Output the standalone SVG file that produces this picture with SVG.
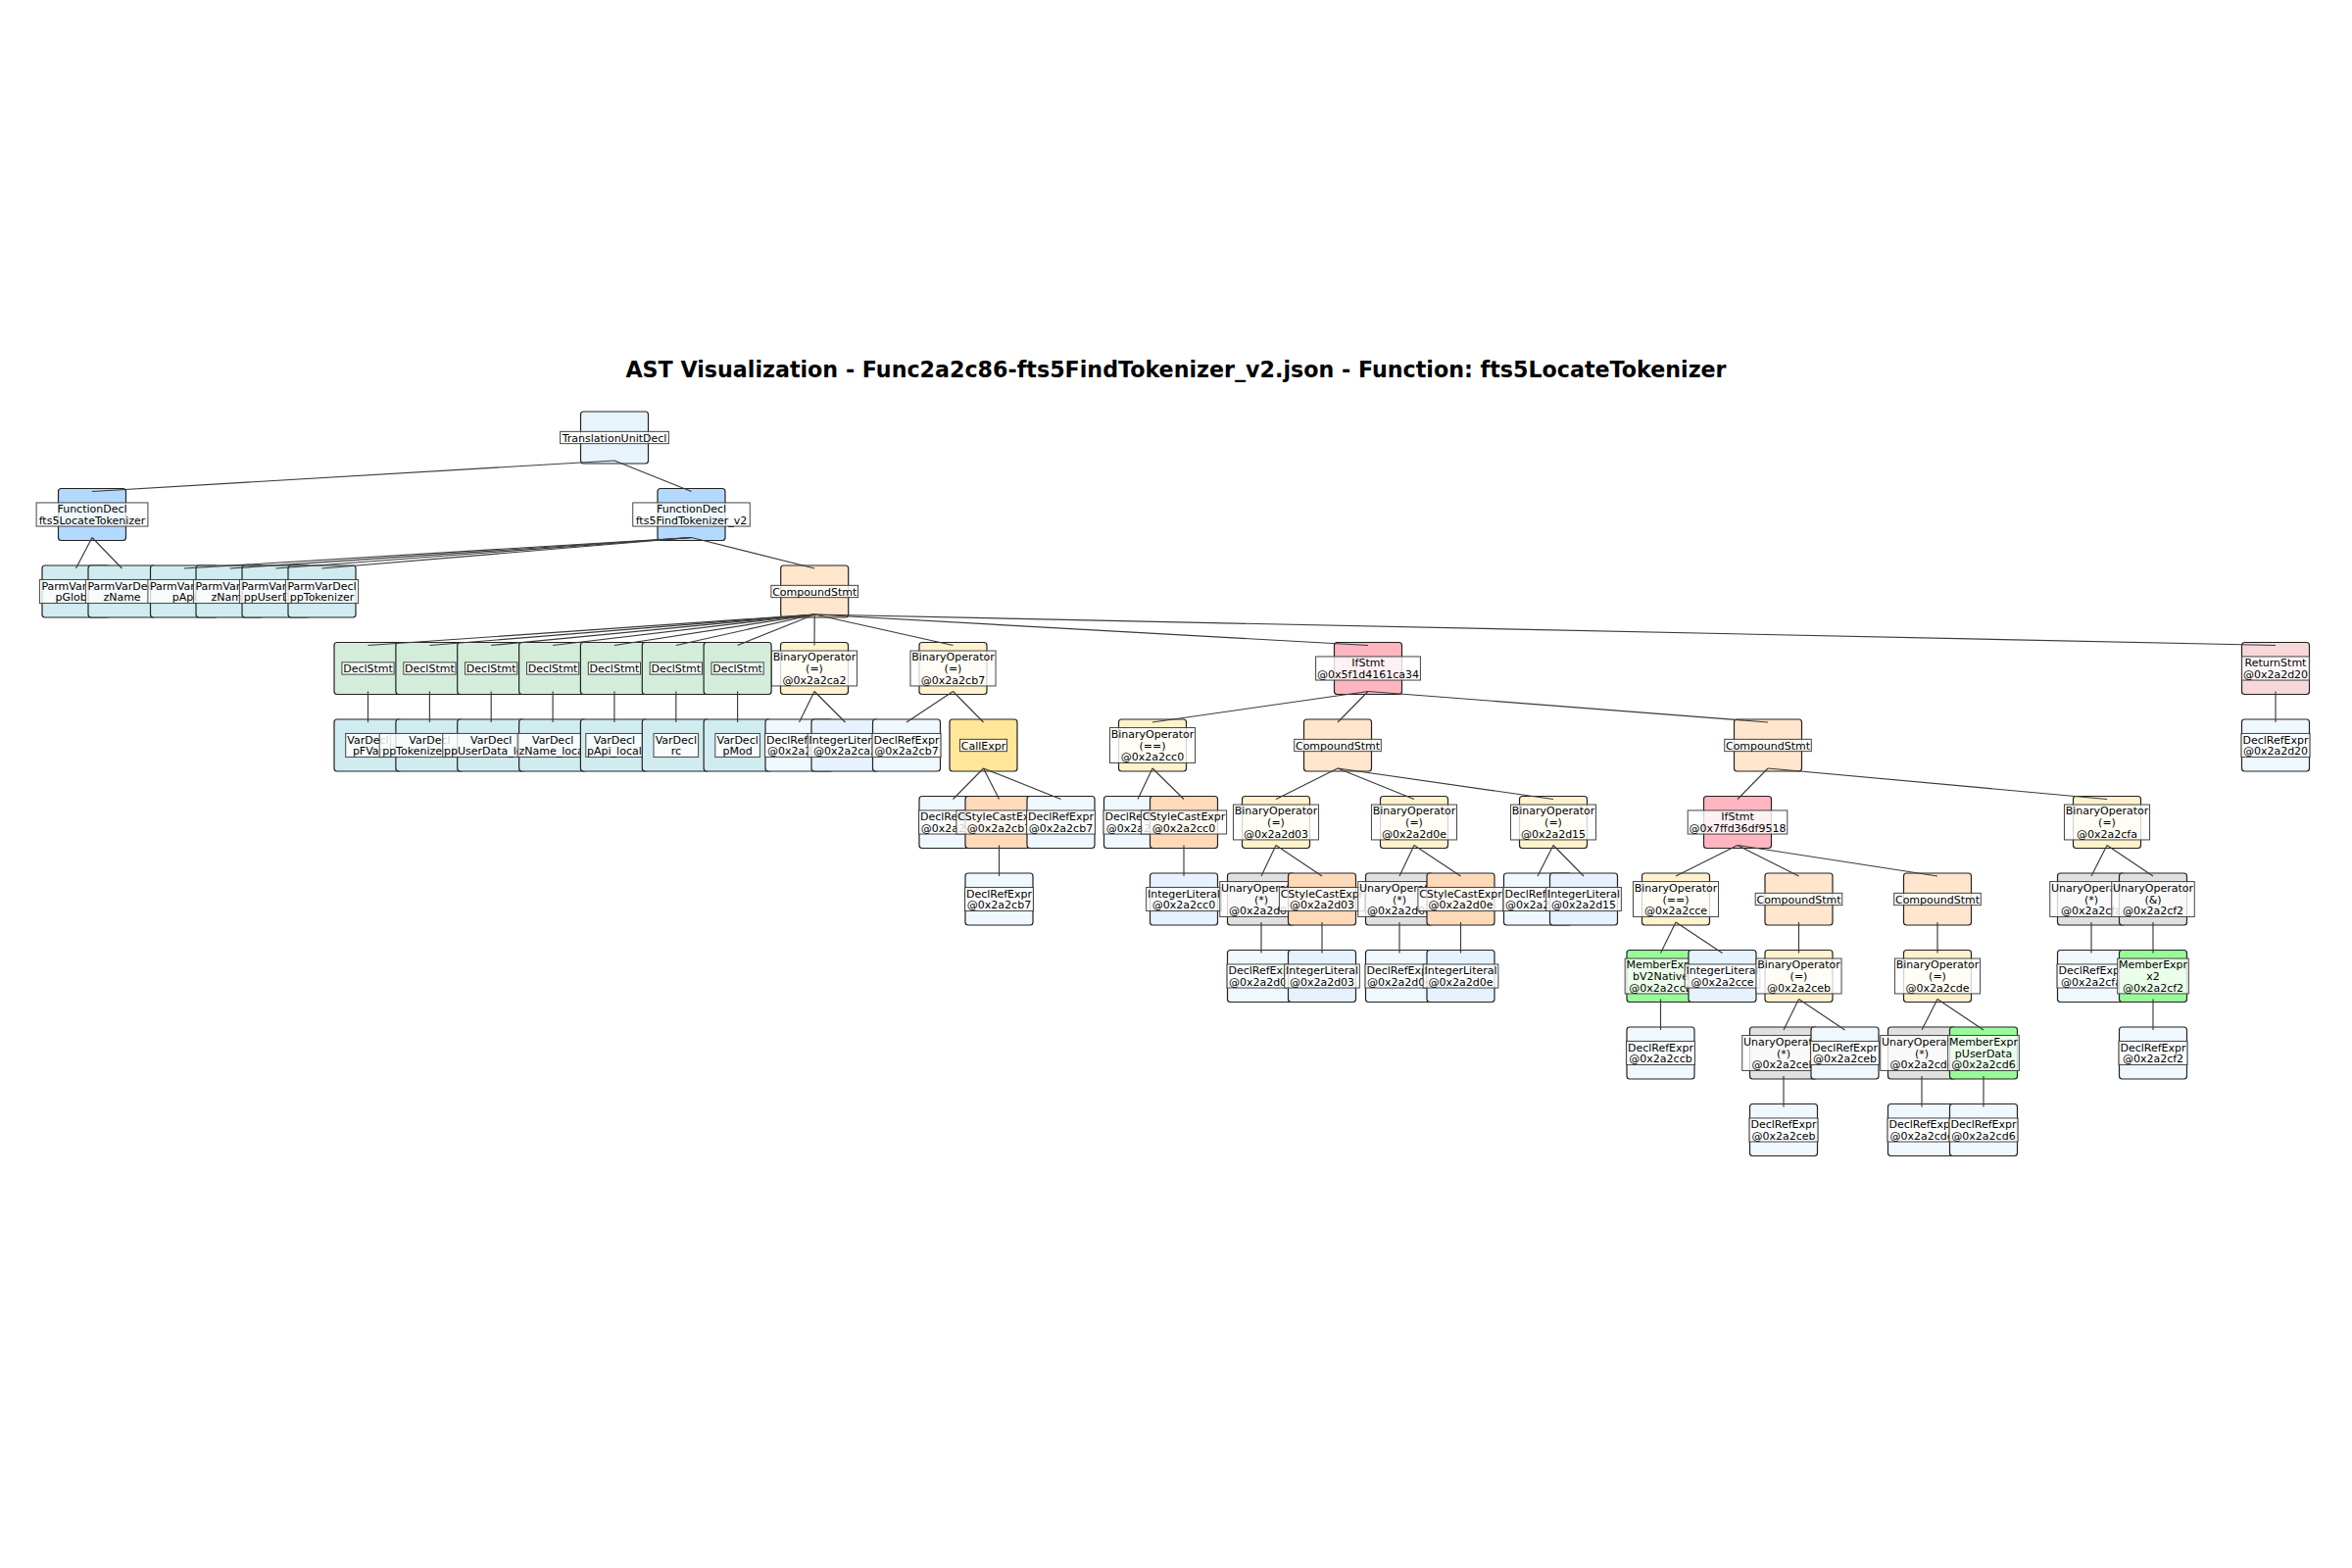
<svg xmlns="http://www.w3.org/2000/svg" width="2400" height="1600" viewBox="0 0 2400 1600">
<style>
.bg{fill:#ffffff}
.title{font-family:"DejaVu Sans",sans-serif;font-size:22.2px;font-weight:bold;text-anchor:middle;fill:#000}
.box{stroke:#222;stroke-width:1.2}
.lr{fill:#ffffff;fill-opacity:0.8;stroke:#444;stroke-width:1}
.lt{font-family:"DejaVu Sans",sans-serif;font-size:11px;text-anchor:middle;fill:#000}
.tu .box{fill:#e8f4fc}
.fn .box{fill:#b3d9ff}
.parm .box,.var .box{fill:#d1ecf1}
.comp .box{fill:#ffe6cc}
.decl .box{fill:#d4edda}
.binop .box{fill:#fff2cc}
.ref .box{fill:#f0f8ff}
.int .box{fill:#e6f2ff}
.call .box{fill:#ffe699}
.cast .box{fill:#ffdab9}
.ifs .box{fill:#ffb6c1}
.ret .box{fill:#f8d7da}
.unary .box{fill:#e0e0e0}
.member .box{fill:#98fb98}
#connectors line{stroke:#3a3a3a;stroke-width:1.15}
</style>
<rect class="bg" x="0" y="0" width="2400" height="1600"/>
<text class="title" x="1200" y="385">AST Visualization - Func2a2c86-fts5FindTokenizer_v2.json - Function: fts5LocateTokenizer</text>
<g id="nodes">
<g id="N00" class="node tu" transform="translate(627,446.5)"><rect class="box" x="-34.5" y="-26.5" width="69" height="53" rx="3"/><rect class="lr" x="-55.4" y="-6.15" width="110.8" height="12.3"/><text class="lt" y="4">TranslationUnitDecl</text></g>
<g id="N01" class="node fn" transform="translate(94,525)"><rect class="box" x="-34.5" y="-26.5" width="69" height="53" rx="3"/><rect class="lr" x="-56.9" y="-12.05" width="113.8" height="24.1"/><text class="lt"><tspan x="0" y="-1.9">FunctionDecl</tspan><tspan x="0" y="9.9">fts5LocateTokenizer</tspan></text></g>
<g id="N02" class="node parm" transform="translate(77.5,603.5)"><rect class="box" x="-34.5" y="-26.5" width="69" height="53" rx="3"/><rect class="lr" x="-37.1" y="-12.05" width="74.2" height="24.1"/><text class="lt"><tspan x="0" y="-1.9">ParmVarDecl</tspan><tspan x="0" y="9.9">pGlobal</tspan></text></g>
<g id="N03" class="node parm" transform="translate(124.5,603.5)"><rect class="box" x="-34.5" y="-26.5" width="69" height="53" rx="3"/><rect class="lr" x="-37.1" y="-12.05" width="74.2" height="24.1"/><text class="lt"><tspan x="0" y="-1.9">ParmVarDecl</tspan><tspan x="0" y="9.9">zName</tspan></text></g>
<g id="N04" class="node fn" transform="translate(705.5,525)"><rect class="box" x="-34.5" y="-26.5" width="69" height="53" rx="3"/><rect class="lr" x="-59.75" y="-12.05" width="119.5" height="24.1"/><text class="lt"><tspan x="0" y="-1.9">FunctionDecl</tspan><tspan x="0" y="9.9">fts5FindTokenizer_v2</tspan></text></g>
<g id="N05" class="node parm" transform="translate(188,603.5)"><rect class="box" x="-34.5" y="-26.5" width="69" height="53" rx="3"/><rect class="lr" x="-37.1" y="-12.05" width="74.2" height="24.1"/><text class="lt"><tspan x="0" y="-1.9">ParmVarDecl</tspan><tspan x="0" y="9.9">pApi</tspan></text></g>
<g id="N06" class="node parm" transform="translate(234.5,603.5)"><rect class="box" x="-34.5" y="-26.5" width="69" height="53" rx="3"/><rect class="lr" x="-37.1" y="-12.05" width="74.2" height="24.1"/><text class="lt"><tspan x="0" y="-1.9">ParmVarDecl</tspan><tspan x="0" y="9.9">zName</tspan></text></g>
<g id="N07" class="node parm" transform="translate(281.5,603.5)"><rect class="box" x="-34.5" y="-26.5" width="69" height="53" rx="3"/><rect class="lr" x="-37.1" y="-12.05" width="74.2" height="24.1"/><text class="lt"><tspan x="0" y="-1.9">ParmVarDecl</tspan><tspan x="0" y="9.9">ppUserData</tspan></text></g>
<g id="N08" class="node parm" transform="translate(328.5,603.5)"><rect class="box" x="-34.5" y="-26.5" width="69" height="53" rx="3"/><rect class="lr" x="-37.1" y="-12.05" width="74.2" height="24.1"/><text class="lt"><tspan x="0" y="-1.9">ParmVarDecl</tspan><tspan x="0" y="9.9">ppTokenizer</tspan></text></g>
<g id="N09" class="node comp" transform="translate(831.2,603.5)"><rect class="box" x="-34.5" y="-26.5" width="69" height="53" rx="3"/><rect class="lr" x="-44.3" y="-6.15" width="88.6" height="12.3"/><text class="lt" y="4">CompoundStmt</text></g>
<g id="N10" class="node decl" transform="translate(375.5,682)"><rect class="box" x="-34.5" y="-26.5" width="69" height="53" rx="3"/><rect class="lr" x="-26.6" y="-6.15" width="53.2" height="12.3"/><text class="lt" y="4">DeclStmt</text></g>
<g id="N11" class="node var" transform="translate(375.5,760.5)"><rect class="box" x="-34.5" y="-26.5" width="69" height="53" rx="3"/><rect class="lr" x="-22.8" y="-12.05" width="45.6" height="24.1"/><text class="lt"><tspan x="0" y="-1.9">VarDecl</tspan><tspan x="0" y="9.9">pFVar</tspan></text></g>
<g id="N12" class="node decl" transform="translate(438.4,682)"><rect class="box" x="-34.5" y="-26.5" width="69" height="53" rx="3"/><rect class="lr" x="-26.6" y="-6.15" width="53.2" height="12.3"/><text class="lt" y="4">DeclStmt</text></g>
<g id="N13" class="node var" transform="translate(438.4,760.5)"><rect class="box" x="-34.5" y="-26.5" width="69" height="53" rx="3"/><rect class="lr" x="-51.2" y="-12.05" width="102.4" height="24.1"/><text class="lt"><tspan x="0" y="-1.9">VarDecl</tspan><tspan x="0" y="9.9">ppTokenizer_local</tspan></text></g>
<g id="N14" class="node decl" transform="translate(501.2,682)"><rect class="box" x="-34.5" y="-26.5" width="69" height="53" rx="3"/><rect class="lr" x="-26.6" y="-6.15" width="53.2" height="12.3"/><text class="lt" y="4">DeclStmt</text></g>
<g id="N15" class="node var" transform="translate(501.2,760.5)"><rect class="box" x="-34.5" y="-26.5" width="69" height="53" rx="3"/><rect class="lr" x="-49.45" y="-12.05" width="98.9" height="24.1"/><text class="lt"><tspan x="0" y="-1.9">VarDecl</tspan><tspan x="0" y="9.9">ppUserData_local</tspan></text></g>
<g id="N16" class="node decl" transform="translate(564.1,682)"><rect class="box" x="-34.5" y="-26.5" width="69" height="53" rx="3"/><rect class="lr" x="-26.6" y="-6.15" width="53.2" height="12.3"/><text class="lt" y="4">DeclStmt</text></g>
<g id="N17" class="node var" transform="translate(564.1,760.5)"><rect class="box" x="-34.5" y="-26.5" width="69" height="53" rx="3"/><rect class="lr" x="-35.95" y="-12.05" width="71.9" height="24.1"/><text class="lt"><tspan x="0" y="-1.9">VarDecl</tspan><tspan x="0" y="9.9">zName_local</tspan></text></g>
<g id="N18" class="node decl" transform="translate(626.9,682)"><rect class="box" x="-34.5" y="-26.5" width="69" height="53" rx="3"/><rect class="lr" x="-26.6" y="-6.15" width="53.2" height="12.3"/><text class="lt" y="4">DeclStmt</text></g>
<g id="N19" class="node var" transform="translate(626.9,760.5)"><rect class="box" x="-34.5" y="-26.5" width="69" height="53" rx="3"/><rect class="lr" x="-29.1" y="-12.05" width="58.2" height="24.1"/><text class="lt"><tspan x="0" y="-1.9">VarDecl</tspan><tspan x="0" y="9.9">pApi_local</tspan></text></g>
<g id="N20" class="node decl" transform="translate(689.8,682)"><rect class="box" x="-34.5" y="-26.5" width="69" height="53" rx="3"/><rect class="lr" x="-26.6" y="-6.15" width="53.2" height="12.3"/><text class="lt" y="4">DeclStmt</text></g>
<g id="N21" class="node var" transform="translate(689.8,760.5)"><rect class="box" x="-34.5" y="-26.5" width="69" height="53" rx="3"/><rect class="lr" x="-22.8" y="-12.05" width="45.6" height="24.1"/><text class="lt"><tspan x="0" y="-1.9">VarDecl</tspan><tspan x="0" y="9.9">rc</tspan></text></g>
<g id="N22" class="node decl" transform="translate(752.6,682)"><rect class="box" x="-34.5" y="-26.5" width="69" height="53" rx="3"/><rect class="lr" x="-26.6" y="-6.15" width="53.2" height="12.3"/><text class="lt" y="4">DeclStmt</text></g>
<g id="N23" class="node var" transform="translate(752.6,760.5)"><rect class="box" x="-34.5" y="-26.5" width="69" height="53" rx="3"/><rect class="lr" x="-22.8" y="-12.05" width="45.6" height="24.1"/><text class="lt"><tspan x="0" y="-1.9">VarDecl</tspan><tspan x="0" y="9.9">pMod</tspan></text></g>
<g id="N24" class="node binop" transform="translate(831,682)"><rect class="box" x="-34.5" y="-26.5" width="69" height="53" rx="3"/><rect class="lr" x="-43.55" y="-17.95" width="87.1" height="35.9"/><text class="lt"><tspan x="0" y="-7.8">BinaryOperator</tspan><tspan x="0" y="4">(=)</tspan><tspan x="0" y="15.8">@0x2a2ca2</tspan></text></g>
<g id="N25" class="node ref" transform="translate(815.5,760.5)"><rect class="box" x="-34.5" y="-26.5" width="69" height="53" rx="3"/><rect class="lr" x="-35.05" y="-12.05" width="70.1" height="24.1"/><text class="lt"><tspan x="0" y="-1.9">DeclRefExpr</tspan><tspan x="0" y="9.9">@0x2a2ca2</tspan></text></g>
<g id="N26" class="node int" transform="translate(862.5,760.5)"><rect class="box" x="-34.5" y="-26.5" width="69" height="53" rx="3"/><rect class="lr" x="-38.35" y="-12.05" width="76.7" height="24.1"/><text class="lt"><tspan x="0" y="-1.9">IntegerLiteral</tspan><tspan x="0" y="9.9">@0x2a2ca2</tspan></text></g>
<g id="N27" class="node binop" transform="translate(972.5,682)"><rect class="box" x="-34.5" y="-26.5" width="69" height="53" rx="3"/><rect class="lr" x="-43.55" y="-17.95" width="87.1" height="35.9"/><text class="lt"><tspan x="0" y="-7.8">BinaryOperator</tspan><tspan x="0" y="4">(=)</tspan><tspan x="0" y="15.8">@0x2a2cb7</tspan></text></g>
<g id="N28" class="node ref" transform="translate(925,760.5)"><rect class="box" x="-34.5" y="-26.5" width="69" height="53" rx="3"/><rect class="lr" x="-35.05" y="-12.05" width="70.1" height="24.1"/><text class="lt"><tspan x="0" y="-1.9">DeclRefExpr</tspan><tspan x="0" y="9.9">@0x2a2cb7</tspan></text></g>
<g id="N29" class="node call" transform="translate(1003.5,760.5)"><rect class="box" x="-34.5" y="-26.5" width="69" height="53" rx="3"/><rect class="lr" x="-24" y="-6.15" width="48" height="12.3"/><text class="lt" y="4">CallExpr</text></g>
<g id="N30" class="node ref" transform="translate(972.5,839)"><rect class="box" x="-34.5" y="-26.5" width="69" height="53" rx="3"/><rect class="lr" x="-35.05" y="-12.05" width="70.1" height="24.1"/><text class="lt"><tspan x="0" y="-1.9">DeclRefExpr</tspan><tspan x="0" y="9.9">@0x2a2cb7</tspan></text></g>
<g id="N31" class="node cast" transform="translate(1019.5,839)"><rect class="box" x="-34.5" y="-26.5" width="69" height="53" rx="3"/><rect class="lr" x="-43.6" y="-12.05" width="87.2" height="24.1"/><text class="lt"><tspan x="0" y="-1.9">CStyleCastExpr</tspan><tspan x="0" y="9.9">@0x2a2cb7</tspan></text></g>
<g id="N32" class="node ref" transform="translate(1019.5,917.5)"><rect class="box" x="-34.5" y="-26.5" width="69" height="53" rx="3"/><rect class="lr" x="-35.05" y="-12.05" width="70.1" height="24.1"/><text class="lt"><tspan x="0" y="-1.9">DeclRefExpr</tspan><tspan x="0" y="9.9">@0x2a2cb7</tspan></text></g>
<g id="N33" class="node ref" transform="translate(1082.5,839)"><rect class="box" x="-34.5" y="-26.5" width="69" height="53" rx="3"/><rect class="lr" x="-35.05" y="-12.05" width="70.1" height="24.1"/><text class="lt"><tspan x="0" y="-1.9">DeclRefExpr</tspan><tspan x="0" y="9.9">@0x2a2cb7</tspan></text></g>
<g id="N34" class="node ifs" transform="translate(1396,682)"><rect class="box" x="-34.5" y="-26.5" width="69" height="53" rx="3"/><rect class="lr" x="-53.4" y="-12.05" width="106.8" height="24.1"/><text class="lt"><tspan x="0" y="-1.9">IfStmt</tspan><tspan x="0" y="9.9">@0x5f1d4161ca34</tspan></text></g>
<g id="N35" class="node binop" transform="translate(1176,760.5)"><rect class="box" x="-34.5" y="-26.5" width="69" height="53" rx="3"/><rect class="lr" x="-43.55" y="-17.95" width="87.1" height="35.9"/><text class="lt"><tspan x="0" y="-7.8">BinaryOperator</tspan><tspan x="0" y="4">(==)</tspan><tspan x="0" y="15.8">@0x2a2cc0</tspan></text></g>
<g id="N36" class="node ref" transform="translate(1161,839)"><rect class="box" x="-34.5" y="-26.5" width="69" height="53" rx="3"/><rect class="lr" x="-35.05" y="-12.05" width="70.1" height="24.1"/><text class="lt"><tspan x="0" y="-1.9">DeclRefExpr</tspan><tspan x="0" y="9.9">@0x2a2cc0</tspan></text></g>
<g id="N37" class="node cast" transform="translate(1208,839)"><rect class="box" x="-34.5" y="-26.5" width="69" height="53" rx="3"/><rect class="lr" x="-43.6" y="-12.05" width="87.2" height="24.1"/><text class="lt"><tspan x="0" y="-1.9">CStyleCastExpr</tspan><tspan x="0" y="9.9">@0x2a2cc0</tspan></text></g>
<g id="N38" class="node int" transform="translate(1208,917.5)"><rect class="box" x="-34.5" y="-26.5" width="69" height="53" rx="3"/><rect class="lr" x="-38.35" y="-12.05" width="76.7" height="24.1"/><text class="lt"><tspan x="0" y="-1.9">IntegerLiteral</tspan><tspan x="0" y="9.9">@0x2a2cc0</tspan></text></g>
<g id="N39" class="node comp" transform="translate(1365,760.5)"><rect class="box" x="-34.5" y="-26.5" width="69" height="53" rx="3"/><rect class="lr" x="-44.3" y="-6.15" width="88.6" height="12.3"/><text class="lt" y="4">CompoundStmt</text></g>
<g id="N40" class="node binop" transform="translate(1302,839)"><rect class="box" x="-34.5" y="-26.5" width="69" height="53" rx="3"/><rect class="lr" x="-43.55" y="-17.95" width="87.1" height="35.9"/><text class="lt"><tspan x="0" y="-7.8">BinaryOperator</tspan><tspan x="0" y="4">(=)</tspan><tspan x="0" y="15.8">@0x2a2d03</tspan></text></g>
<g id="N41" class="node unary" transform="translate(1287,917.5)"><rect class="box" x="-34.5" y="-26.5" width="69" height="53" rx="3"/><rect class="lr" x="-42.25" y="-17.95" width="84.5" height="35.9"/><text class="lt"><tspan x="0" y="-7.8">UnaryOperator</tspan><tspan x="0" y="4">(*)</tspan><tspan x="0" y="15.8">@0x2a2d03</tspan></text></g>
<g id="N42" class="node ref" transform="translate(1287,996)"><rect class="box" x="-34.5" y="-26.5" width="69" height="53" rx="3"/><rect class="lr" x="-35.05" y="-12.05" width="70.1" height="24.1"/><text class="lt"><tspan x="0" y="-1.9">DeclRefExpr</tspan><tspan x="0" y="9.9">@0x2a2d03</tspan></text></g>
<g id="N43" class="node cast" transform="translate(1349,917.5)"><rect class="box" x="-34.5" y="-26.5" width="69" height="53" rx="3"/><rect class="lr" x="-43.6" y="-12.05" width="87.2" height="24.1"/><text class="lt"><tspan x="0" y="-1.9">CStyleCastExpr</tspan><tspan x="0" y="9.9">@0x2a2d03</tspan></text></g>
<g id="N44" class="node int" transform="translate(1349,996)"><rect class="box" x="-34.5" y="-26.5" width="69" height="53" rx="3"/><rect class="lr" x="-38.35" y="-12.05" width="76.7" height="24.1"/><text class="lt"><tspan x="0" y="-1.9">IntegerLiteral</tspan><tspan x="0" y="9.9">@0x2a2d03</tspan></text></g>
<g id="N45" class="node binop" transform="translate(1443,839)"><rect class="box" x="-34.5" y="-26.5" width="69" height="53" rx="3"/><rect class="lr" x="-43.55" y="-17.95" width="87.1" height="35.9"/><text class="lt"><tspan x="0" y="-7.8">BinaryOperator</tspan><tspan x="0" y="4">(=)</tspan><tspan x="0" y="15.8">@0x2a2d0e</tspan></text></g>
<g id="N46" class="node unary" transform="translate(1428,917.5)"><rect class="box" x="-34.5" y="-26.5" width="69" height="53" rx="3"/><rect class="lr" x="-42.25" y="-17.95" width="84.5" height="35.9"/><text class="lt"><tspan x="0" y="-7.8">UnaryOperator</tspan><tspan x="0" y="4">(*)</tspan><tspan x="0" y="15.8">@0x2a2d0e</tspan></text></g>
<g id="N47" class="node ref" transform="translate(1428,996)"><rect class="box" x="-34.5" y="-26.5" width="69" height="53" rx="3"/><rect class="lr" x="-35.05" y="-12.05" width="70.1" height="24.1"/><text class="lt"><tspan x="0" y="-1.9">DeclRefExpr</tspan><tspan x="0" y="9.9">@0x2a2d0e</tspan></text></g>
<g id="N48" class="node cast" transform="translate(1490.5,917.5)"><rect class="box" x="-34.5" y="-26.5" width="69" height="53" rx="3"/><rect class="lr" x="-43.6" y="-12.05" width="87.2" height="24.1"/><text class="lt"><tspan x="0" y="-1.9">CStyleCastExpr</tspan><tspan x="0" y="9.9">@0x2a2d0e</tspan></text></g>
<g id="N49" class="node int" transform="translate(1490.5,996)"><rect class="box" x="-34.5" y="-26.5" width="69" height="53" rx="3"/><rect class="lr" x="-38.35" y="-12.05" width="76.7" height="24.1"/><text class="lt"><tspan x="0" y="-1.9">IntegerLiteral</tspan><tspan x="0" y="9.9">@0x2a2d0e</tspan></text></g>
<g id="N50" class="node binop" transform="translate(1585,839)"><rect class="box" x="-34.5" y="-26.5" width="69" height="53" rx="3"/><rect class="lr" x="-43.55" y="-17.95" width="87.1" height="35.9"/><text class="lt"><tspan x="0" y="-7.8">BinaryOperator</tspan><tspan x="0" y="4">(=)</tspan><tspan x="0" y="15.8">@0x2a2d15</tspan></text></g>
<g id="N51" class="node ref" transform="translate(1569,917.5)"><rect class="box" x="-34.5" y="-26.5" width="69" height="53" rx="3"/><rect class="lr" x="-35.05" y="-12.05" width="70.1" height="24.1"/><text class="lt"><tspan x="0" y="-1.9">DeclRefExpr</tspan><tspan x="0" y="9.9">@0x2a2d15</tspan></text></g>
<g id="N52" class="node int" transform="translate(1616,917.5)"><rect class="box" x="-34.5" y="-26.5" width="69" height="53" rx="3"/><rect class="lr" x="-38.35" y="-12.05" width="76.7" height="24.1"/><text class="lt"><tspan x="0" y="-1.9">IntegerLiteral</tspan><tspan x="0" y="9.9">@0x2a2d15</tspan></text></g>
<g id="N53" class="node comp" transform="translate(1804,760.5)"><rect class="box" x="-34.5" y="-26.5" width="69" height="53" rx="3"/><rect class="lr" x="-44.3" y="-6.15" width="88.6" height="12.3"/><text class="lt" y="4">CompoundStmt</text></g>
<g id="N54" class="node ifs" transform="translate(1773,839)"><rect class="box" x="-34.5" y="-26.5" width="69" height="53" rx="3"/><rect class="lr" x="-50.8" y="-12.05" width="101.6" height="24.1"/><text class="lt"><tspan x="0" y="-1.9">IfStmt</tspan><tspan x="0" y="9.9">@0x7ffd36df9518</tspan></text></g>
<g id="N55" class="node binop" transform="translate(1710,917.5)"><rect class="box" x="-34.5" y="-26.5" width="69" height="53" rx="3"/><rect class="lr" x="-43.55" y="-17.95" width="87.1" height="35.9"/><text class="lt"><tspan x="0" y="-7.8">BinaryOperator</tspan><tspan x="0" y="4">(==)</tspan><tspan x="0" y="15.8">@0x2a2cce</tspan></text></g>
<g id="N56" class="node member" transform="translate(1694.5,996)"><rect class="box" x="-34.5" y="-26.5" width="69" height="53" rx="3"/><rect class="lr" x="-36.35" y="-17.95" width="72.7" height="35.9"/><text class="lt"><tspan x="0" y="-7.8">MemberExpr</tspan><tspan x="0" y="4">bV2Native</tspan><tspan x="0" y="15.8">@0x2a2ccb</tspan></text></g>
<g id="N57" class="node ref" transform="translate(1694.5,1074.5)"><rect class="box" x="-34.5" y="-26.5" width="69" height="53" rx="3"/><rect class="lr" x="-35.05" y="-12.05" width="70.1" height="24.1"/><text class="lt"><tspan x="0" y="-1.9">DeclRefExpr</tspan><tspan x="0" y="9.9">@0x2a2ccb</tspan></text></g>
<g id="N58" class="node int" transform="translate(1757.5,996)"><rect class="box" x="-34.5" y="-26.5" width="69" height="53" rx="3"/><rect class="lr" x="-38.35" y="-12.05" width="76.7" height="24.1"/><text class="lt"><tspan x="0" y="-1.9">IntegerLiteral</tspan><tspan x="0" y="9.9">@0x2a2cce</tspan></text></g>
<g id="N59" class="node comp" transform="translate(1835.5,917.5)"><rect class="box" x="-34.5" y="-26.5" width="69" height="53" rx="3"/><rect class="lr" x="-44.3" y="-6.15" width="88.6" height="12.3"/><text class="lt" y="4">CompoundStmt</text></g>
<g id="N60" class="node binop" transform="translate(1835.5,996)"><rect class="box" x="-34.5" y="-26.5" width="69" height="53" rx="3"/><rect class="lr" x="-43.55" y="-17.95" width="87.1" height="35.9"/><text class="lt"><tspan x="0" y="-7.8">BinaryOperator</tspan><tspan x="0" y="4">(=)</tspan><tspan x="0" y="15.8">@0x2a2ceb</tspan></text></g>
<g id="N61" class="node unary" transform="translate(1820,1074.5)"><rect class="box" x="-34.5" y="-26.5" width="69" height="53" rx="3"/><rect class="lr" x="-42.25" y="-17.95" width="84.5" height="35.9"/><text class="lt"><tspan x="0" y="-7.8">UnaryOperator</tspan><tspan x="0" y="4">(*)</tspan><tspan x="0" y="15.8">@0x2a2ceb</tspan></text></g>
<g id="N62" class="node ref" transform="translate(1820,1153)"><rect class="box" x="-34.5" y="-26.5" width="69" height="53" rx="3"/><rect class="lr" x="-35.05" y="-12.05" width="70.1" height="24.1"/><text class="lt"><tspan x="0" y="-1.9">DeclRefExpr</tspan><tspan x="0" y="9.9">@0x2a2ceb</tspan></text></g>
<g id="N63" class="node ref" transform="translate(1882.5,1074.5)"><rect class="box" x="-34.5" y="-26.5" width="69" height="53" rx="3"/><rect class="lr" x="-35.05" y="-12.05" width="70.1" height="24.1"/><text class="lt"><tspan x="0" y="-1.9">DeclRefExpr</tspan><tspan x="0" y="9.9">@0x2a2ceb</tspan></text></g>
<g id="N64" class="node comp" transform="translate(1977,917.5)"><rect class="box" x="-34.5" y="-26.5" width="69" height="53" rx="3"/><rect class="lr" x="-44.3" y="-6.15" width="88.6" height="12.3"/><text class="lt" y="4">CompoundStmt</text></g>
<g id="N65" class="node binop" transform="translate(1977,996)"><rect class="box" x="-34.5" y="-26.5" width="69" height="53" rx="3"/><rect class="lr" x="-43.55" y="-17.95" width="87.1" height="35.9"/><text class="lt"><tspan x="0" y="-7.8">BinaryOperator</tspan><tspan x="0" y="4">(=)</tspan><tspan x="0" y="15.8">@0x2a2cde</tspan></text></g>
<g id="N66" class="node unary" transform="translate(1961,1074.5)"><rect class="box" x="-34.5" y="-26.5" width="69" height="53" rx="3"/><rect class="lr" x="-42.25" y="-17.95" width="84.5" height="35.9"/><text class="lt"><tspan x="0" y="-7.8">UnaryOperator</tspan><tspan x="0" y="4">(*)</tspan><tspan x="0" y="15.8">@0x2a2cde</tspan></text></g>
<g id="N67" class="node ref" transform="translate(1961,1153)"><rect class="box" x="-34.5" y="-26.5" width="69" height="53" rx="3"/><rect class="lr" x="-35.05" y="-12.05" width="70.1" height="24.1"/><text class="lt"><tspan x="0" y="-1.9">DeclRefExpr</tspan><tspan x="0" y="9.9">@0x2a2cde</tspan></text></g>
<g id="N68" class="node member" transform="translate(2024,1074.5)"><rect class="box" x="-34.5" y="-26.5" width="69" height="53" rx="3"/><rect class="lr" x="-36.35" y="-17.95" width="72.7" height="35.9"/><text class="lt"><tspan x="0" y="-7.8">MemberExpr</tspan><tspan x="0" y="4">pUserData</tspan><tspan x="0" y="15.8">@0x2a2cd6</tspan></text></g>
<g id="N69" class="node ref" transform="translate(2024,1153)"><rect class="box" x="-34.5" y="-26.5" width="69" height="53" rx="3"/><rect class="lr" x="-35.05" y="-12.05" width="70.1" height="24.1"/><text class="lt"><tspan x="0" y="-1.9">DeclRefExpr</tspan><tspan x="0" y="9.9">@0x2a2cd6</tspan></text></g>
<g id="N70" class="node binop" transform="translate(2150,839)"><rect class="box" x="-34.5" y="-26.5" width="69" height="53" rx="3"/><rect class="lr" x="-43.55" y="-17.95" width="87.1" height="35.9"/><text class="lt"><tspan x="0" y="-7.8">BinaryOperator</tspan><tspan x="0" y="4">(=)</tspan><tspan x="0" y="15.8">@0x2a2cfa</tspan></text></g>
<g id="N71" class="node unary" transform="translate(2134,917.5)"><rect class="box" x="-34.5" y="-26.5" width="69" height="53" rx="3"/><rect class="lr" x="-42.25" y="-17.95" width="84.5" height="35.9"/><text class="lt"><tspan x="0" y="-7.8">UnaryOperator</tspan><tspan x="0" y="4">(*)</tspan><tspan x="0" y="15.8">@0x2a2cfa</tspan></text></g>
<g id="N72" class="node ref" transform="translate(2134,996)"><rect class="box" x="-34.5" y="-26.5" width="69" height="53" rx="3"/><rect class="lr" x="-35.05" y="-12.05" width="70.1" height="24.1"/><text class="lt"><tspan x="0" y="-1.9">DeclRefExpr</tspan><tspan x="0" y="9.9">@0x2a2cfa</tspan></text></g>
<g id="N73" class="node unary" transform="translate(2197,917.5)"><rect class="box" x="-34.5" y="-26.5" width="69" height="53" rx="3"/><rect class="lr" x="-42.25" y="-17.95" width="84.5" height="35.9"/><text class="lt"><tspan x="0" y="-7.8">UnaryOperator</tspan><tspan x="0" y="4">(&amp;)</tspan><tspan x="0" y="15.8">@0x2a2cf2</tspan></text></g>
<g id="N74" class="node member" transform="translate(2197,996)"><rect class="box" x="-34.5" y="-26.5" width="69" height="53" rx="3"/><rect class="lr" x="-36.35" y="-17.95" width="72.7" height="35.9"/><text class="lt"><tspan x="0" y="-7.8">MemberExpr</tspan><tspan x="0" y="4">x2</tspan><tspan x="0" y="15.8">@0x2a2cf2</tspan></text></g>
<g id="N75" class="node ref" transform="translate(2197,1074.5)"><rect class="box" x="-34.5" y="-26.5" width="69" height="53" rx="3"/><rect class="lr" x="-35.05" y="-12.05" width="70.1" height="24.1"/><text class="lt"><tspan x="0" y="-1.9">DeclRefExpr</tspan><tspan x="0" y="9.9">@0x2a2cf2</tspan></text></g>
<g id="N76" class="node ret" transform="translate(2322,682)"><rect class="box" x="-34.5" y="-26.5" width="69" height="53" rx="3"/><rect class="lr" x="-34.35" y="-12.05" width="68.7" height="24.1"/><text class="lt"><tspan x="0" y="-1.9">ReturnStmt</tspan><tspan x="0" y="9.9">@0x2a2d20</tspan></text></g>
<g id="N77" class="node ref" transform="translate(2322,760.5)"><rect class="box" x="-34.5" y="-26.5" width="69" height="53" rx="3"/><rect class="lr" x="-35.05" y="-12.05" width="70.1" height="24.1"/><text class="lt"><tspan x="0" y="-1.9">DeclRefExpr</tspan><tspan x="0" y="9.9">@0x2a2d20</tspan></text></g>
</g>
<g id="connectors">
<line x1="627" y1="470" x2="94" y2="501.5"/>
<line x1="627" y1="470" x2="705.5" y2="501.5"/>
<line x1="94" y1="548.5" x2="77.5" y2="580"/>
<line x1="94" y1="548.5" x2="124.5" y2="580"/>
<line x1="705.5" y1="548.5" x2="188" y2="580"/>
<line x1="705.5" y1="548.5" x2="234.5" y2="580"/>
<line x1="705.5" y1="548.5" x2="281.5" y2="580"/>
<line x1="705.5" y1="548.5" x2="328.5" y2="580"/>
<line x1="705.5" y1="548.5" x2="831.2" y2="580"/>
<line x1="831.2" y1="627" x2="375.5" y2="658.5"/>
<line x1="831.2" y1="627" x2="438.4" y2="658.5"/>
<line x1="831.2" y1="627" x2="501.2" y2="658.5"/>
<line x1="831.2" y1="627" x2="564.1" y2="658.5"/>
<line x1="831.2" y1="627" x2="626.9" y2="658.5"/>
<line x1="831.2" y1="627" x2="689.8" y2="658.5"/>
<line x1="831.2" y1="627" x2="752.6" y2="658.5"/>
<line x1="831.2" y1="627" x2="831" y2="658.5"/>
<line x1="831.2" y1="627" x2="972.5" y2="658.5"/>
<line x1="831.2" y1="627" x2="1396" y2="658.5"/>
<line x1="831.2" y1="627" x2="2322" y2="658.5"/>
<line x1="375.5" y1="705.5" x2="375.5" y2="737"/>
<line x1="438.4" y1="705.5" x2="438.4" y2="737"/>
<line x1="501.2" y1="705.5" x2="501.2" y2="737"/>
<line x1="564.1" y1="705.5" x2="564.1" y2="737"/>
<line x1="626.9" y1="705.5" x2="626.9" y2="737"/>
<line x1="689.8" y1="705.5" x2="689.8" y2="737"/>
<line x1="752.6" y1="705.5" x2="752.6" y2="737"/>
<line x1="831" y1="705.5" x2="815.5" y2="737"/>
<line x1="831" y1="705.5" x2="862.5" y2="737"/>
<line x1="972.5" y1="705.5" x2="925" y2="737"/>
<line x1="972.5" y1="705.5" x2="1003.5" y2="737"/>
<line x1="1003.5" y1="784" x2="972.5" y2="815.5"/>
<line x1="1003.5" y1="784" x2="1019.5" y2="815.5"/>
<line x1="1003.5" y1="784" x2="1082.5" y2="815.5"/>
<line x1="1019.5" y1="862.5" x2="1019.5" y2="894"/>
<line x1="1396" y1="705.5" x2="1176" y2="737"/>
<line x1="1396" y1="705.5" x2="1365" y2="737"/>
<line x1="1396" y1="705.5" x2="1804" y2="737"/>
<line x1="1176" y1="784" x2="1161" y2="815.5"/>
<line x1="1176" y1="784" x2="1208" y2="815.5"/>
<line x1="1208" y1="862.5" x2="1208" y2="894"/>
<line x1="1365" y1="784" x2="1302" y2="815.5"/>
<line x1="1365" y1="784" x2="1443" y2="815.5"/>
<line x1="1365" y1="784" x2="1585" y2="815.5"/>
<line x1="1302" y1="862.5" x2="1287" y2="894"/>
<line x1="1302" y1="862.5" x2="1349" y2="894"/>
<line x1="1287" y1="941" x2="1287" y2="972.5"/>
<line x1="1349" y1="941" x2="1349" y2="972.5"/>
<line x1="1443" y1="862.5" x2="1428" y2="894"/>
<line x1="1443" y1="862.5" x2="1490.5" y2="894"/>
<line x1="1428" y1="941" x2="1428" y2="972.5"/>
<line x1="1490.5" y1="941" x2="1490.5" y2="972.5"/>
<line x1="1585" y1="862.5" x2="1569" y2="894"/>
<line x1="1585" y1="862.5" x2="1616" y2="894"/>
<line x1="1804" y1="784" x2="1773" y2="815.5"/>
<line x1="1804" y1="784" x2="2150" y2="815.5"/>
<line x1="1773" y1="862.5" x2="1710" y2="894"/>
<line x1="1773" y1="862.5" x2="1835.5" y2="894"/>
<line x1="1773" y1="862.5" x2="1977" y2="894"/>
<line x1="1710" y1="941" x2="1694.5" y2="972.5"/>
<line x1="1710" y1="941" x2="1757.5" y2="972.5"/>
<line x1="1694.5" y1="1019.5" x2="1694.5" y2="1051"/>
<line x1="1835.5" y1="941" x2="1835.5" y2="972.5"/>
<line x1="1835.5" y1="1019.5" x2="1820" y2="1051"/>
<line x1="1835.5" y1="1019.5" x2="1882.5" y2="1051"/>
<line x1="1820" y1="1098" x2="1820" y2="1129.5"/>
<line x1="1977" y1="941" x2="1977" y2="972.5"/>
<line x1="1977" y1="1019.5" x2="1961" y2="1051"/>
<line x1="1977" y1="1019.5" x2="2024" y2="1051"/>
<line x1="1961" y1="1098" x2="1961" y2="1129.5"/>
<line x1="2024" y1="1098" x2="2024" y2="1129.5"/>
<line x1="2150" y1="862.5" x2="2134" y2="894"/>
<line x1="2150" y1="862.5" x2="2197" y2="894"/>
<line x1="2134" y1="941" x2="2134" y2="972.5"/>
<line x1="2197" y1="941" x2="2197" y2="972.5"/>
<line x1="2197" y1="1019.5" x2="2197" y2="1051"/>
<line x1="2322" y1="705.5" x2="2322" y2="737"/>
</g>
</svg>
